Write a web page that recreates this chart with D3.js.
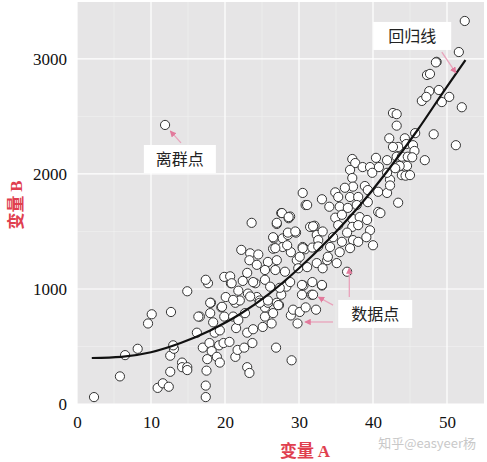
<!DOCTYPE html>
<html>
<head>
<meta charset="utf-8">
<script src="https://cdn.jsdelivr.net/npm/d3@7"></script>
<style>
  body { margin: 0; background: #fff; }
  .cjk { font-family: "Noto Sans CJK SC", sans-serif; }
</style>
</head>
<body>
<svg id="chart" width="487" height="462"></svg>
<script>
// scatter points [变量A, 变量B]
const points = [
  [2.3,60],[5.8,240],[6.5,425],[8.2,480],[9.6,700],[10.1,780],[12.7,800],[14.9,980],
  [10.9,140],[11.6,180],[12.4,150],[12.6,280],[12.6,420],[13.1,480],[13.0,510],[14.2,360],
  [14.2,320],[14.9,320],[14.9,295],[16.2,620],[16.6,760],[16.4,760],[17.0,490],[17.4,160],
  [17.4,60],[17.5,290],[17.6,390],[17.9,530],[18.0,790],[18.1,880],[17.7,1050],[18.2,460],
  [18.4,710],[18.6,620],[18.9,410],[19.2,510],[19.3,360],[19.3,640],[19.5,840],[19.9,760],
  [20.1,930],[19.8,530],[20.6,540],[20.8,1050],[21.1,760],[21.4,880],[21.5,660],[21.4,410],
  [21.7,470],[21.8,730],[22.0,900],[22.6,490],[22.7,790],[23.0,620],[23.0,320],[23.3,270],
  [23.1,960],[23.7,530],[23.8,650],[24.1,1050],[24.3,930],[24.7,900],[25.1,670],[25.4,760],
  [25.4,840],[25.8,880],[26.3,700],[26.5,790],[26.9,490],[27.0,880],[27.3,860],[27.6,950],
  [28.3,1020],[28.9,770],[29.0,380],[29.2,820],[29.8,700],[30.1,800],[30.4,950],[30.9,840],
  [31.7,950],[32.3,820],[33.1,1030],[30.6,1030],
  [23.6,1575],[27.0,1565],[27.6,1660],[28.6,1615],[28.8,1630],[30.9,1730],[26.6,1440],[27.8,1440],
  [28.5,1470],[29.6,1490],[31.8,1540],[32.1,1550],[32.4,1470],[22.2,1340],[23.4,1310],[24.5,1300],
  [23.3,1250],[25.8,1235],[27.0,1250],[26.5,1350],[27.8,1365],[28.9,1320],[30.5,1365],[30.8,1345],
  [24.3,1210],[25.4,1165],[26.8,1165],[28.1,1150],[29.7,1250],[29.9,1180],[31.1,1190],[32.4,1225],
  [33.8,1250],[33.2,1180],[35.1,1225],[36.5,1150],[17.4,1080],[19.9,1105],[20.7,1110],[20.9,1050],
  [22.4,1070],[23.0,1140],[23.8,1060],[25.4,1080],[26.1,1020],[27.4,1010],[28.8,1060],[30.4,1035],
  [31.8,1060],[33.1,1035],[31.9,950],[18.0,880],[19.6,845],[21.1,905],[21.8,985],[23.4,935],
  [24.7,880],[25.8,900],[27.2,860],
  [48.6,2975],[47.3,2860],[47.7,2870],[47.6,2720],[46.6,2635],[47.2,2670],[48.9,2730],[49.3,2625],
  [50.3,2670],[52.0,2580],[42.7,2530],[43.2,2520],[43.2,2420],[42.2,2310],[45.7,2355],[48.2,2345],
  [51.2,2250],[44.3,2310],[44.5,2260],[43.4,2235],[42.7,2235],[43.2,2150],[41.9,2120],[43.9,2150],
  [45.4,2250],[45.6,2200],[44.7,2150],[45.3,2145],[44.6,2070],[43.6,2070],[47.0,2120],[43.0,2050],
  [42.3,1950],[43.9,1990],[44.4,1985],[45.0,1990],[37.2,2130],[37.6,2095],[36.9,2035],[38.6,2060],
  [39.6,2060],[40.4,2140],[40.8,2060],[39.9,2010],[41.9,2010],[37.2,1965],[37.3,1890],[38.9,1895],
  [39.3,1860],[40.7,1845],[41.9,1835],[42.3,1900],[43.4,1750],[34.9,1840],[35.3,1800],[36.2,1880],
  [36.9,1800],[38.0,1800],[30.5,1835],[33.1,1780],[34.1,1715],[31.1,1730],[35.5,1715],[36.6,1705],
  [37.8,1730],[39.3,1755],[40.7,1670],[41.0,1660],[27.7,1660],[28.6,1625],[27.0,1575],[28.5,1490],
  [29.5,1500],[31.5,1540],[31.9,1545],[34.9,1620],[35.8,1645],[37.2,1610],[38.2,1625],[35.3,1555],
  [37.2,1540],[38.0,1555],[39.2,1600],[39.6,1510],[36.5,1490],[37.3,1425],[35.8,1410],[34.6,1450],
  [33.2,1500],[32.6,1425],[34.2,1365],[35.5,1320],[36.9,1355],[38.0,1410],[39.1,1450],[40.0,1380],
  [26.5,1450],[26.8,1355],[28.4,1380],[30.5,1355],[31.8,1360],[32.6,1370],[30.1,1280],[33.9,1280],
  [11.9,2426],[52.4,3330],[51.6,3060],[48.5,2970]
];

// regression curve control values
const curveX = [2, 6, 10, 14, 18, 22, 26, 30, 34, 38, 42, 46, 50, 52.5];
const curveY = [400, 410, 450, 530, 640, 780, 960, 1180, 1430, 1710, 2030, 2380, 2760, 2990];

const xTicks = [0, 10, 20, 30, 40, 50];
const yTicks = [0, 1000, 2000, 3000];

// annotation labels: text, box centre (data units), arrows [x1,y1,x2,y2]
const labels = [
  { text: '离群点', cx: 13.9, cy: 2130, w: 72, arrows: [[14.05, 2270, 12.6, 2374]] },
  { text: '回归线', cx: 45.3, cy: 3200, w: 78, arrows: [[49.3, 3060, 51.2, 2878]] },
  { text: '数据点', cx: 40.3, cy: 783, w: 74, arrows: [[36.8, 930, 36.8, 1183], [34.6, 860, 32.6, 930], [34.6, 713, 30.8, 713]] }
];

const serif = '"Liberation Serif", "DejaVu Serif", serif';

const margin = {top: 2, right: 3, bottom: 58, left: 77},
      width = 487 - margin.left - margin.right,
      height = 462 - margin.top - margin.bottom;

const svg = d3.select('#chart');
svg.append('defs').append('marker')
    .attr('id', 'arrow')
    .attr('viewBox', '0 0 10 10')
    .attr('refX', 9).attr('refY', 5)
    .attr('markerWidth', 5).attr('markerHeight', 5)
    .attr('orient', 'auto')
  .append('path')
    .attr('d', 'M0,0L10,5L0,10z')
    .attr('fill', '#e27a9c');

const g = svg.append('g').attr('transform', `translate(${margin.left},${margin.top})`);

const x = d3.scaleLinear().domain([0, 55]).range([0, width]);
const y = d3.scaleLinear().domain([0, 3495]).range([height, 0]);

// panel background
g.append('rect').attr('width', width).attr('height', height).attr('fill', '#e6e5e6');

// grid lines (minor then major)
const xMinor = d3.range(5, 55, 10), yMinor = d3.range(500, 3500, 1000);
g.selectAll('.xminor').data(xMinor).enter().append('line')
  .attr('x1', d => x(d)).attr('x2', d => x(d)).attr('y1', 0).attr('y2', height)
  .attr('stroke', '#f2f2f2').attr('stroke-width', 0.6);
g.selectAll('.yminor').data(yMinor).enter().append('line')
  .attr('y1', d => y(d)).attr('y2', d => y(d)).attr('x1', 0).attr('x2', width)
  .attr('stroke', '#f2f2f2').attr('stroke-width', 0.6);
g.selectAll('.xmajor').data(xTicks).enter().append('line')
  .attr('x1', d => x(d)).attr('x2', d => x(d)).attr('y1', 0).attr('y2', height)
  .attr('stroke', '#fff').attr('stroke-width', 1.2);
g.selectAll('.ymajor').data(yTicks).enter().append('line')
  .attr('y1', d => y(d)).attr('y2', d => y(d)).attr('x1', 0).attr('x2', width)
  .attr('stroke', '#fff').attr('stroke-width', 1.2);

// axes (labels only)
const xAxis = g.append('g').attr('transform', `translate(0,${height})`)
  .call(d3.axisBottom(x).tickValues(xTicks).tickFormat(d3.format('d')).tickSize(0).tickPadding(12));
const yAxis = g.append('g')
  .call(d3.axisLeft(y).tickValues(yTicks).tickFormat(d3.format('d')).tickSize(0).tickPadding(10));
[xAxis, yAxis].forEach(a => {
  a.attr('font-family', null);
  a.select('.domain').remove();
  a.selectAll('text').style('font-family', serif).style('font-size', '17px').attr('fill', '#111');
});

// points
g.selectAll('circle.pt').data(points).enter().append('circle')
  .attr('class', 'pt')
  .attr('cx', d => x(d[0])).attr('cy', d => y(d[1])).attr('r', 4.6)
  .attr('fill', '#fff').attr('stroke', '#333').attr('stroke-width', 1);

// regression line
const line = d3.line().x(d => x(d[0])).y(d => y(d[1])).curve(d3.curveMonotoneX);
g.append('path').datum(curveX.map((v, i) => [v, curveY[i]]))
  .attr('fill', 'none').attr('stroke', '#111').attr('stroke-width', 2.2).attr('d', line);

// annotations
labels.forEach(l => {
  l.arrows.forEach(a => {
    g.append('line')
      .attr('x1', x(a[0])).attr('y1', y(a[1])).attr('x2', x(a[2])).attr('y2', y(a[3]))
      .attr('stroke', '#e9a3bb').attr('stroke-width', 1.3).attr('marker-end', 'url(#arrow)');
  });
  g.append('rect')
    .attr('x', x(l.cx) - l.w / 2).attr('y', y(l.cy) - 14).attr('width', l.w).attr('height', 28)
    .attr('fill', '#fff');
  g.append('text').attr('class', 'cjk')
    .attr('x', x(l.cx)).attr('y', y(l.cy) + 6).attr('text-anchor', 'middle')
    .attr('font-size', 16).attr('fill', '#222').text(l.text);
});

// axis titles
svg.append('text')
  .attr('x', 305).attr('y', 457).attr('text-anchor', 'middle')
  .style('font-family', '"Noto Sans CJK SC", sans-serif')
  .attr('font-size', 17).attr('font-weight', 'bold').attr('fill', '#e0404f')
  .call(t => { t.append('tspan').text('变量 '); t.append('tspan').style('font-family', serif).text('A'); });
svg.append('text')
  .attr('transform', 'translate(22,205) rotate(-90)').attr('text-anchor', 'middle')
  .style('font-family', '"Noto Sans CJK SC", sans-serif')
  .attr('font-size', 17).attr('font-weight', 'bold').attr('fill', '#e0404f')
  .call(t => { t.append('tspan').text('变量 '); t.append('tspan').style('font-family', serif).text('B'); });

// watermark
svg.append('text').attr('class', 'cjk')
  .attr('x', 476).attr('y', 448).attr('text-anchor', 'end')
  .attr('font-size', 13).attr('fill', '#bbb').attr('opacity', 0.8).text('知乎@easyeer杨');
</script>
</body>
</html>
